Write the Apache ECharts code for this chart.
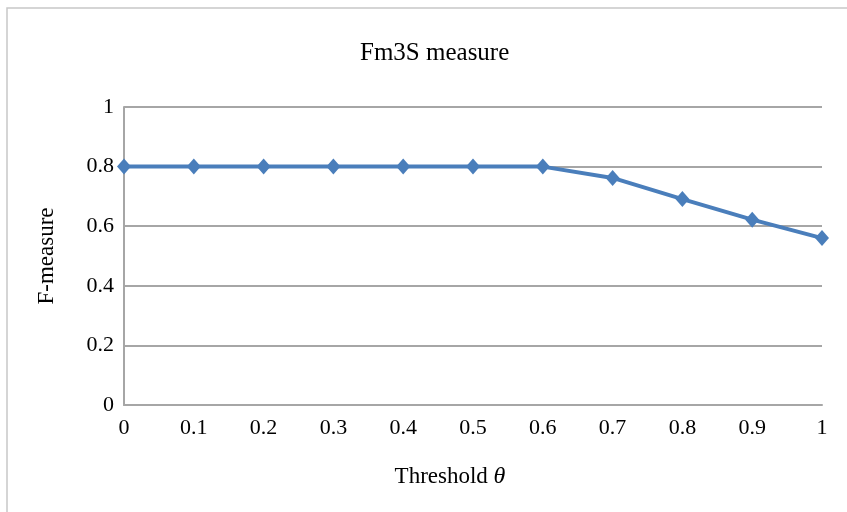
<!DOCTYPE html>
<html>
<head>
<meta charset="utf-8">
<script src="https://cdn.jsdelivr.net/npm/echarts@6/dist/echarts.min.js"></script>
<style>html,body{margin:0;padding:0;background:#fff;}#c{width:847px;height:512px;}</style>
</head>
<body>
<div id="c"></div>
<script>
const categories = ['0','0.1','0.2','0.3','0.4','0.5','0.6','0.7','0.8','0.9','1'];
const fmeasure = [0.8,0.8,0.8,0.8,0.8,0.8,0.8,0.762,0.691,0.622,0.56];
const yTicks = {min:0, max:1, interval:0.2};

const font = '"Liberation Serif", "Times New Roman", serif';
const chart = echarts.init(document.getElementById('c'));
chart.setOption({
  backgroundColor:'#fff',
  animation:false,
  graphic:[{type:'rect', shape:{x:7,y:8,width:900,height:600}, style:{fill:'none', stroke:'#c8c8c8', lineWidth:1.5}, silent:true}],
  title:{text:'Fm3S measure', left:360, top:41, padding:0, textStyle:{fontFamily:font, fontWeight:'normal', fontSize:25, color:'#000'}},
  grid:{left:124, right:25, top:107, bottom:107},
  xAxis:{type:'category', data:categories, boundaryGap:false,
    name:'Threshold {i|θ}', nameLocation:'middle', nameGap:60,
    nameTextStyle:{fontFamily:font, fontSize:23, color:'#000', padding:[0,46,0,0],
      rich:{i:{fontFamily:font, fontStyle:'italic', fontSize:24, color:'#000'}}},
    axisLine:{lineStyle:{color:'#a6a6a6', width:2}}, axisTick:{show:false},
    axisLabel:{fontFamily:font, fontSize:22, color:'#000', margin:12}},
  yAxis:{type:'value', min:yTicks.min, max:yTicks.max, interval:yTicks.interval,
    name:'F-measure', nameLocation:'middle', nameGap:66, nameRotate:90,
    nameTextStyle:{fontFamily:font, fontSize:23, color:'#000'},
    axisLine:{show:true, lineStyle:{color:'#a6a6a6', width:2}}, axisTick:{show:false},
    splitLine:{lineStyle:{color:'#a6a6a6', width:2}},
    axisLabel:{fontFamily:font, fontSize:22, color:'#000', margin:10}},
  series:[{type:'line', data:fmeasure, symbol:'diamond', symbolSize:[14,16],
    lineStyle:{color:'#4a7ebb', width:4}, itemStyle:{color:'#4a7ebb'}}]
});
</script>
</body>
</html>
